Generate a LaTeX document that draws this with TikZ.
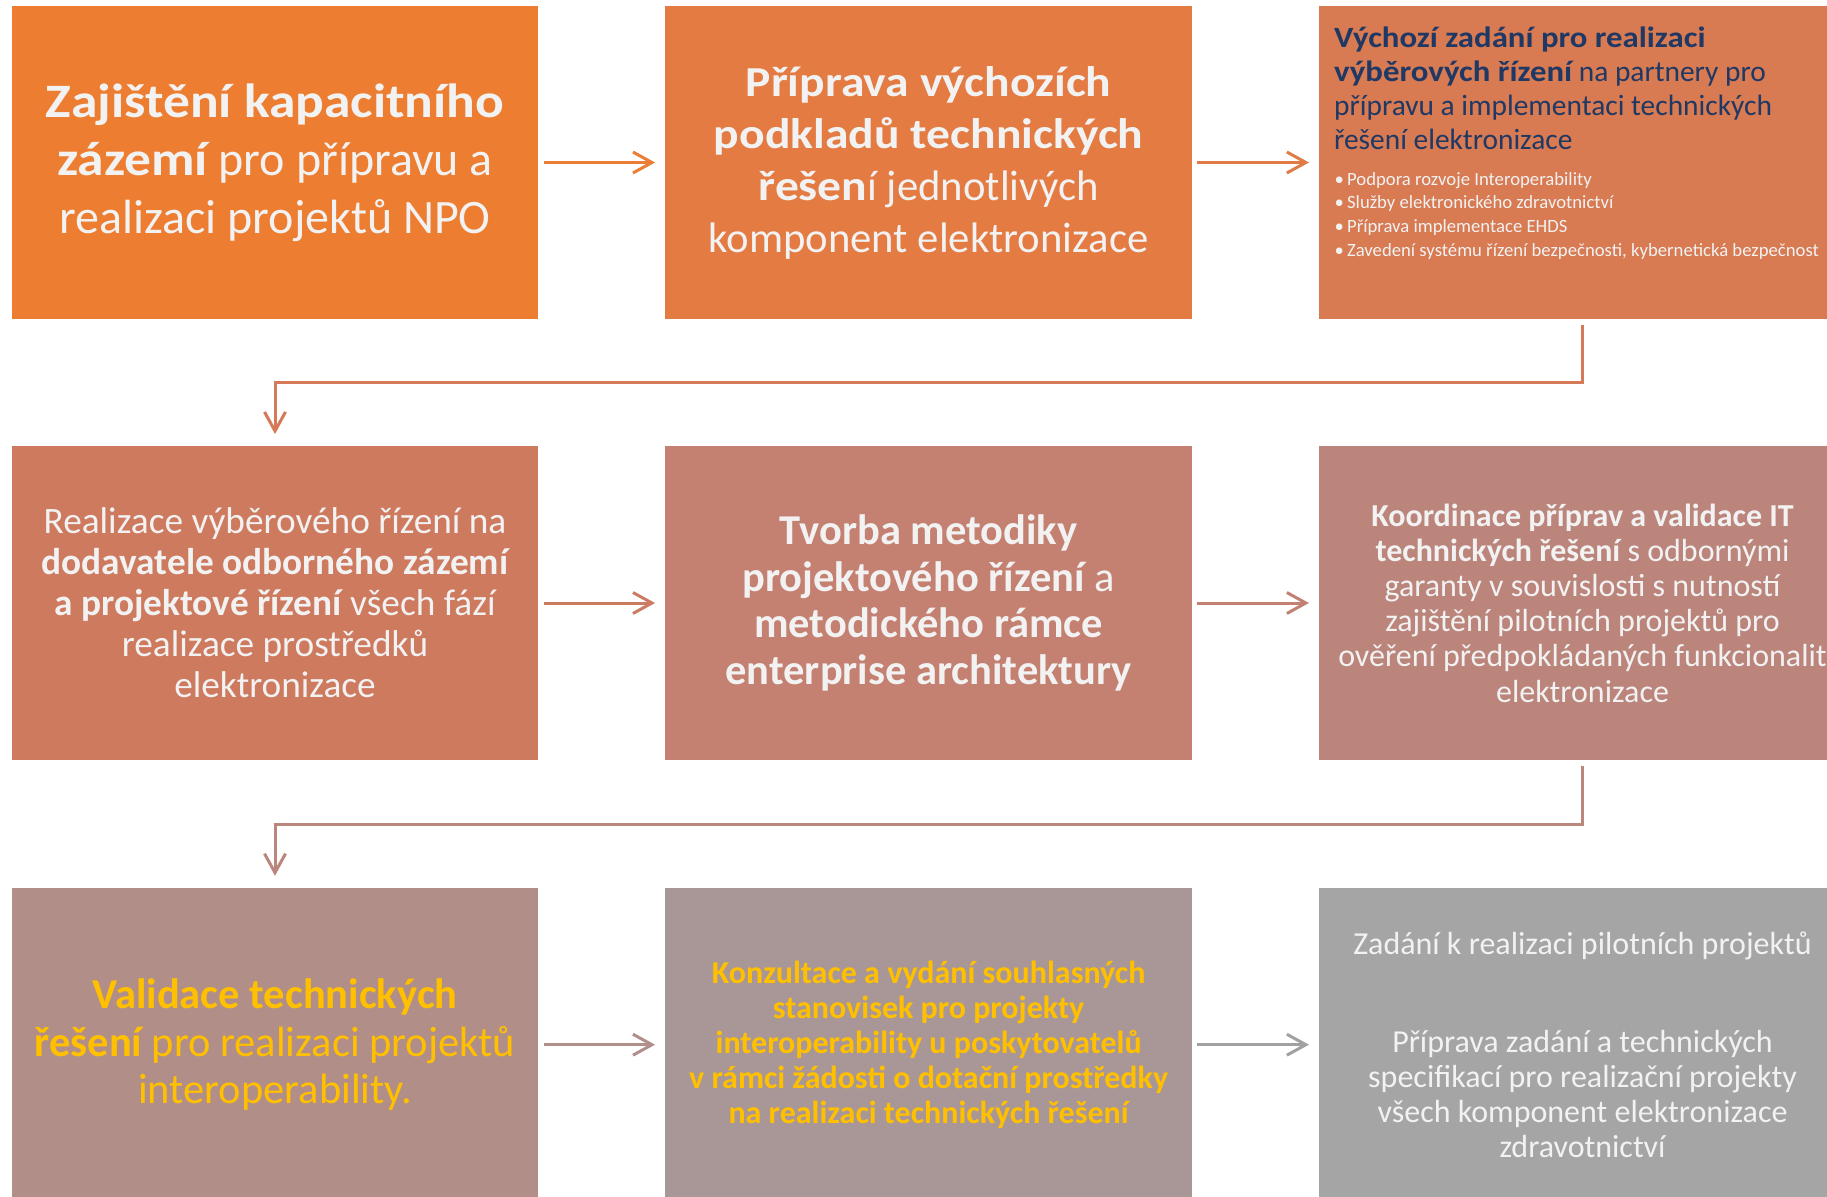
\documentclass[tikz,border=0pt]{standalone}
\usepackage{fontspec}
\setmainfont{Carlito}
\newfontfamily\wbf{Carlito}[FakeStretch=1.115]
\usetikzlibrary{arrows.meta}
\definecolor{b1c}{RGB}{237,125,49}
\definecolor{b2c}{RGB}{227,123,67}
\definecolor{b3c}{RGB}{216,122,82}
\definecolor{b4c}{RGB}{206,122,95}
\definecolor{b5c}{RGB}{196,128,112}
\definecolor{b6c}{RGB}{187,133,124}
\definecolor{b7c}{RGB}{178,142,136}
\definecolor{b8c}{RGB}{169,151,151}
\definecolor{b9c}{RGB}{165,165,165}
\definecolor{txtw}{RGB}{242,242,242}
\definecolor{gold}{RGB}{255,192,0}
\definecolor{navy}{RGB}{31,56,100}
\newcommand{\wb}[1]{{\wbf\bfseries #1}}
\begin{document}
\begin{tikzpicture}[x=1pt,y=-1pt,
  box/.style={minimum width=526.7pt, minimum height=313.5pt, inner sep=0pt, draw=none, text=txtw, align=center},
  arr/.style={line width=3pt, -{Straight Barb[length=19pt,width=21pt,line width=3pt]}, shorten <=5pt, shorten >=10pt},
  conn/.style={line width=3pt, -{Straight Barb[length=19pt,width=21pt,line width=3pt]}, shorten <=6pt, shorten >=12pt}]
\useasboundingbox (0,0) rectangle (1827,1196);
\clip (0,0) rectangle (1827,1196);
% row 1
\node[box, fill=b1c, font=\fontsize{48}{58}\selectfont] (b1) at (275,162.5)
  {\wb{Zajištění kapacitního}\\\wb{zázemí} pro přípravu a\\realizaci projektů NPO};
\node[box, fill=b2c, font=\fontsize{42.7}{52}\selectfont] (b2) at (928.6,162.5)
  {\wb{Příprava výchozích}\\\wb{podkladů technických}\\\wb{řešen}í jednotlivých\\komponent elektronizace};
\node[box, fill=b3c] (b3) at (1582.5,162.5) {};
\node[anchor=north west, inner sep=0pt, align=left, text=navy, font=\fontsize{29.4}{34}\selectfont] (b3t) at (1334,27)
  {\wb{Výchozí zadání pro realizaci}\\\wb{výběrových řízení} na partnery pro\\přípravu a implementaci technických\\řešení elektronizace};
\node[anchor=north west, inner sep=0pt, align=left, text=txtw, font=\fontsize{18.7}{23.7}\selectfont] (b3b) at (1334.5,172)
  {•\,Podpora rozvoje Interoperability\\•\,Služby elektronického zdravotnictví\\•\,Příprava implementace EHDS\\•\,Zavedení systému řízení bezpečnosti, kybernetická bezpečnost};
% row 2
\node[box, fill=b4c, font=\fontsize{37.3}{41}\selectfont] (b4) at (275,603)
  {Realizace výběrového řízení na\\{\bfseries dodavatele odborného zázemí}\\{\bfseries a projektové řízení} všech fází\\realizace prostředků\\elektronizace};
\node[box, fill=b5c, font=\fontsize{42.5}{46.6}\selectfont] (b5) at (928.6,603)
  {{\bfseries Tvorba metodiky}\\{\bfseries projektového řízení} a\\{\bfseries metodického rámce}\\{\bfseries enterprise architektury}};
\node[box, fill=b6c, font=\fontsize{32}{35.2}\selectfont] (b6) at (1582.5,603)
  {{\bfseries Koordinace příprav a validace IT}\\{\bfseries technických řešení} s odbornými\\garanty v souvislosti s nutností\\zajištění pilotních projektů pro\\ověření předpokládaných funkcionalit\\elektronizace};
% row 3
\node[box, fill=b7c, text=gold, font=\fontsize{42.5}{47.7}\selectfont] (b7) at (275,1044.7)
  {{\bfseries Validace technických}\\{\bfseries řešení} pro realizaci projektů\\interoperability.};
\node[box, fill=b8c, text=gold, font=\bfseries\fontsize{32}{35}\selectfont] (b8) at (928.6,1044.7)
  {Konzultace a vydání souhlasných\\stanovisek pro projekty\\interoperability u poskytovatelů\\v rámci žádosti o dotační prostředky\\na realizaci technických řešení};
\node[box, fill=b9c, font=\fontsize{32}{35}\selectfont] (b9) at (1582.5,1044.7)
  {Zadání k realizaci pilotních projektů\\[63pt]Příprava zadání a technických\\specifikací pro realizační projekty\\všech komponent elektronizace\\zdravotnictví};
% connectors
\draw[arr, draw={rgb,255:red,236;green,125;blue,52}] (b1.east) -- (b2.west);
\draw[arr, draw={rgb,255:red,224;green,123;blue,70}] (b2.east) -- (b3.west);
\draw[conn, draw={rgb,255:red,212;green,122;blue,88}] (b3.south) -- ++(0,62.9) -| (b4.north);
\draw[arr, draw={rgb,255:red,204;green,123;blue,99}] (b4.east) -- (b5.west);
\draw[arr, draw={rgb,255:red,194;green,129;blue,115}] (b5.east) -- (b6.west);
\draw[conn, draw={rgb,255:red,186;green,134;blue,126}] (b6.south) -- ++(0,64.1) -| (b7.north);
\draw[arr, draw={rgb,255:red,176;green,143;blue,139}] (b7.east) -- (b8.west);
\draw[arr, draw={rgb,255:red,162;green,160;blue,160}] (b8.east) -- (b9.west);
\end{tikzpicture}
\end{document}
